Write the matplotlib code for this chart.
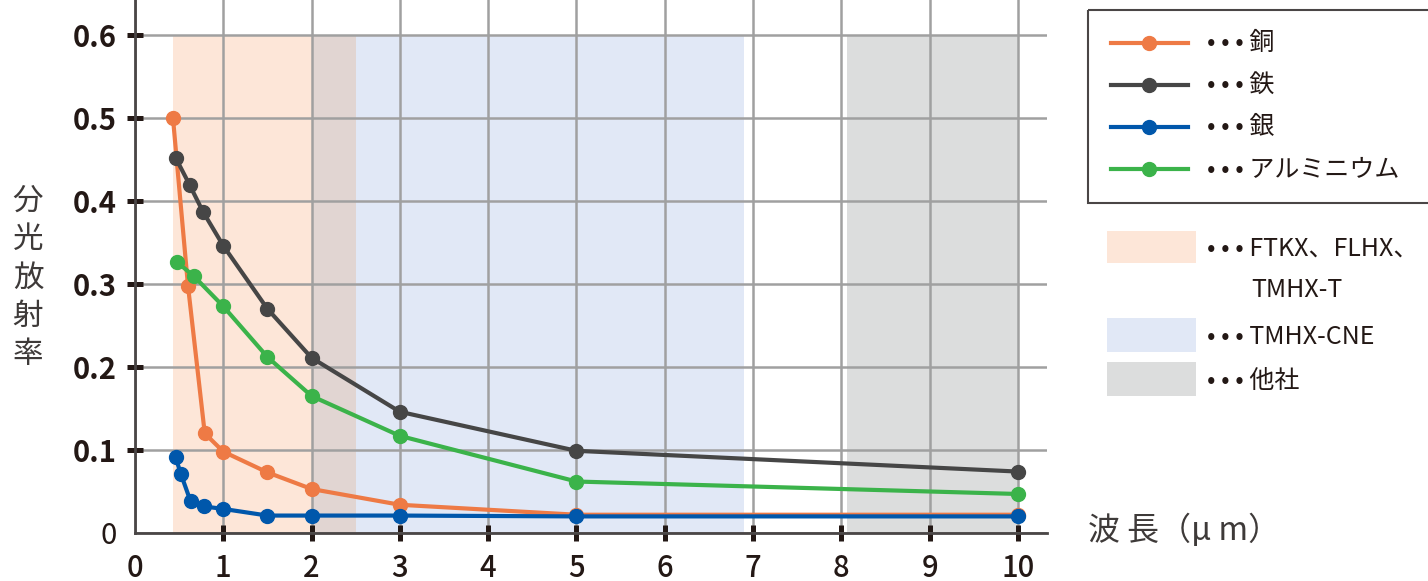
import matplotlib
matplotlib.use('Agg')
import matplotlib.pyplot as plt
from matplotlib.lines import Line2D
from matplotlib.patches import Rectangle

plt.rcParams['font.family'] = ['Noto Sans CJK JP', 'DejaVu Sans']

# ---- data: spectral emissivity vs wavelength (um) ----
cu_x = [0.43, 0.60, 0.79, 1.0, 1.5, 2.0, 3.0, 5.0, 10.0]
cu_y = [0.500, 0.298, 0.120, 0.098, 0.073, 0.053, 0.034, 0.022, 0.022]

fe_x = [0.46, 0.62, 0.77, 1.0, 1.5, 2.0, 3.0, 5.0, 10.0]
fe_y = [0.452, 0.419, 0.387, 0.346, 0.270, 0.211, 0.146, 0.099, 0.074]

ag_x = [0.46, 0.52, 0.63, 0.78, 1.0, 1.5, 2.0, 3.0, 5.0, 10.0]
ag_y = [0.091, 0.071, 0.038, 0.032, 0.029, 0.021, 0.021, 0.021, 0.020, 0.020]

al_x = [0.48, 0.67, 1.0, 1.5, 2.0, 3.0, 5.0, 10.0]
al_y = [0.326, 0.309, 0.273, 0.212, 0.165, 0.117, 0.062, 0.047]

series_names = ['銅', '鉄', '銀', 'アルミニウム']
series_colors = ['#EE7A45', '#464646', '#0057AB', '#3BB34A']

# wavelength bands of each product line (start, end)
band_ftkx = (0.43, 2.5)
band_cne = (2.5, 6.9)
band_other = [(2.0, 2.5), (8.07, 10.0)]
band_top = 0.6
band_names = ['FTKX、FLHX、', 'TMHX-CNE', '他社']
band_colors = ['#FDE6D8', '#E1E8F6', '#DCDDDD']
overlap_color = '#E1D5D2'

y_ticks = [0, 0.1, 0.2, 0.3, 0.4, 0.5, 0.6]
y_labels = ['0', '0.1', '0.2', '0.3', '0.4', '0.5', '0.6']
x_ticks = list(range(0, 11))

DOTS = '• • • '

W, H = 1428, 581
fig = plt.figure(figsize=(W / 100, H / 100), dpi=100)
ax = fig.add_axes([135 / W, 1 - 533 / H, (1047 - 135) / W, 533 / H])
ax.set_xlim(0, 10.33)
ax.set_ylim(0, 0.642)

# shaded bands
ax.fill_between(band_ftkx, 0, band_top, color=band_colors[0], lw=0, zorder=0.2)
ax.fill_between(band_cne, 0, band_top, color=band_colors[1], lw=0, zorder=0.2)
ax.fill_between(band_other[0], 0, band_top, color=overlap_color, lw=0, zorder=0.3)
ax.fill_between(band_other[1], 0, band_top, color=band_colors[2], lw=0, zorder=0.2)

# emissivity curves
data = [(cu_x, cu_y), (fe_x, fe_y), (al_x, al_y), (ag_x, ag_y)]
order = [0, 1, 3, 2]
for (xs, ys), i in zip(data, order):
    ax.plot(xs, ys, color=series_colors[i], lw=3.0, marker='o', ms=10,
            zorder=3 + order.index(i))

# grid / spines / ticks
ax.set_axisbelow(True)
ax.grid(True, color='#A0A0A0', lw=1.8)
for s in ['top', 'right']:
    ax.spines[s].set_visible(False)
for s in ['left', 'bottom']:
    ax.spines[s].set_color('#4a4646')
    ax.spines[s].set_linewidth(2.0)

ax.set_yticks(y_ticks)
ax.set_yticklabels(y_labels)
ax.set_xticks(x_ticks)
ax.tick_params(axis='both', direction='inout', length=12.2, width=3.6,
               color='#231815', labelcolor='#231815')
ax.tick_params(axis='y', pad=7, labelsize=21)
ax.tick_params(axis='x', pad=8, labelsize=21)
for lab in ax.get_yticklabels()[1:]:
    lab.set_fontweight('bold')
for lab in ax.get_xticklabels():
    lab.set_fontweight('medium')
ax.yaxis.get_major_ticks()[0].tick1line.set_visible(False)
ax.xaxis.get_major_ticks()[0].tick1line.set_visible(False)

# axis titles
fig.text(28 / W, 1 - 278 / H, '\n'.join('分光放射率'), ha='center', va='center',
         fontsize=22, color='#3e3a39', linespacing=1.3)
fig.text(1088 / W, 1 - 530 / H, '波 長（μ m）', ha='left', va='center',
         fontsize=23, color='#3e3a39')

# legend panel (pixel coordinates)
lax = fig.add_axes([0, 0, 1, 1], zorder=5)
lax.set_xlim(0, W)
lax.set_ylim(H, 0)
lax.axis('off')
lax.add_patch(Rectangle((1088, 10), 400, 193, fill=False, ec='#4a4646', lw=1.5))
for k, (name, col) in enumerate(zip(series_names, series_colors)):
    yy = 43 + k * 42
    lax.add_line(Line2D([1111, 1188], [yy, yy], color=col, lw=3.0))
    lax.plot([1149], [yy], 'o', color=col, ms=10)
    lax.text(1207, yy, DOTS + name, fontsize=18, va='center', color='#231815')

rows = [(231, 263), (318, 352), (362, 396)]
for (y0, y1), col, name in zip(rows, band_colors, band_names):
    lax.add_patch(Rectangle((1107, y0), 89, y1 - y0, color=col, lw=0))
    lax.text(1207, (y0 + y1) / 2 + 2, DOTS + name, fontsize=18, va='center',
             color='#231815')
lax.text(1251, 290, 'TMHX-T', fontsize=18, va='center', color='#231815')

fig.savefig('out.png', dpi=100)
